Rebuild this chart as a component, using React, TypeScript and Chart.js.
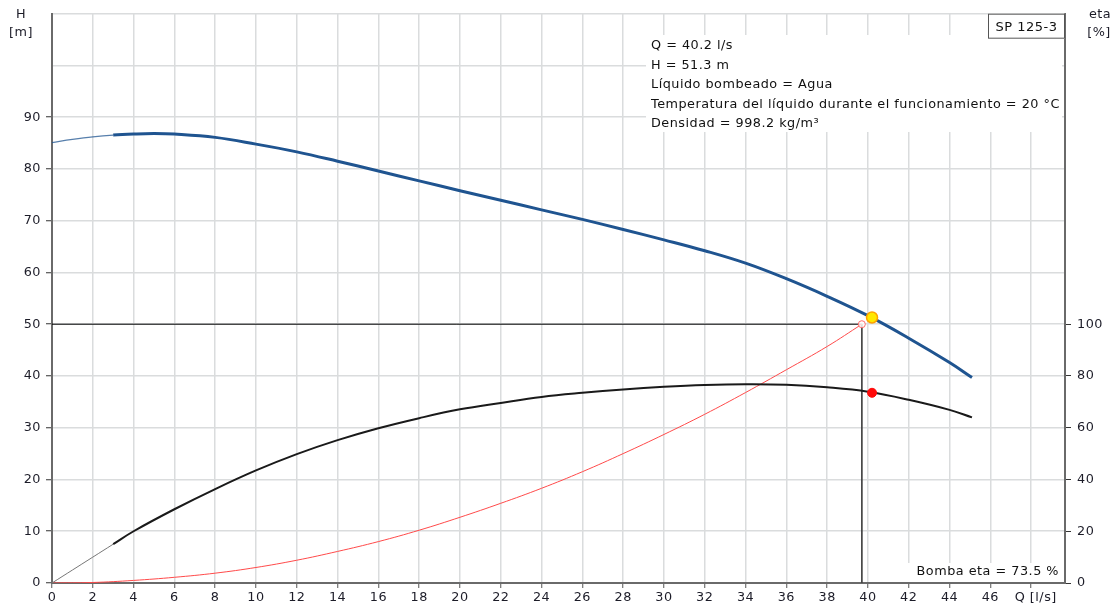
import React, { useEffect, useRef } from 'react';
import { Chart, registerables } from 'chart.js';

Chart.register(...registerables);

// Pump head curve H [m] vs Q [l/s]
const qHead = [0, 1, 2, 3, 4, 5, 6, 8, 10, 12, 14, 16, 18, 20, 22, 24, 26, 28, 30, 32, 34, 36, 38, 40, 42, 44, 45.1];
const headValues = [85.1, 85.7, 86.2, 86.55, 86.75, 86.85, 86.75, 86.1, 84.8, 83.3, 81.5, 79.6, 77.7, 75.8, 73.95, 72.1, 70.25, 68.3, 66.3, 64.2, 61.8, 58.8, 55.4, 51.65, 47.3, 42.6, 39.7];

// Pump efficiency eta [%] vs Q [l/s]
const qEta = [0, 2, 3, 4, 6, 8, 10, 12, 14, 16, 18, 20, 22, 24, 26, 28, 30, 32, 34, 36, 38, 40, 42, 44, 45.1];
const etaValues = [0, 10, 15, 20, 28.5, 36.3, 43.5, 49.8, 55.2, 59.8, 63.7, 67.1, 69.6, 71.9, 73.5, 74.8, 75.8, 76.5, 76.8, 76.6, 75.6, 73.9, 70.8, 66.9, 64.0];

// Red (system) curve H [m] vs Q [l/s]
const qSystem = [0, 2, 4, 6, 8, 10, 12, 14, 16, 18, 20, 22, 24, 26, 28, 30, 32, 34, 36, 38, 39.7];
const systemValues = [0, 0.1, 0.5, 1.1, 1.9, 3.0, 4.4, 6.1, 8.0, 10.2, 12.7, 15.4, 18.3, 21.5, 25.0, 28.7, 32.6, 36.8, 41.2, 45.7, 50.0];

// Operating / duty points
const dutyQ = 39.7;
const dutyH = 50;
const opQ = 40.2;
const opH = 51.3;
const opEta = 73.5;

// Axis ranges & labels
const xMax = 49.66;
const xLastNumberTick = 46;
const xAxisLabel = '  Q [l/s]';
const yLeftMax = 110;
const yLeftLabelMax = 90;
const yRightMax = 220;
const yRightLabelMax = 100;
const leftTitle = ['H', '[m]'];
const rightTitle = ['eta', '[%]'];
const pumpName = 'SP 125-3';
const infoLines = [
  'Q = 40.2 l/s',
  'H = 51.3 m',
  'Líquido bombeado = Agua',
  'Temperatura del líquido durante el funcionamiento = 20 °C',
  'Densidad = 998.2 kg/m³',
];
const etaNote = 'Bomba eta = 73.5 %';

const FONT = '"DejaVu Sans", Verdana, sans-serif';
const GRID = '#dadcdd';
const AXIS = '#6a6a6a';
const TEXT = '#1c1c28';
const BLUE = '#1f5490';
const SPACING = '0.5px';

const xy = (xs: number[], ys: number[]) => xs.map((x, i) => ({ x, y: ys[i] }));

const overlay = {
  id: 'overlay',
  beforeInit(chart: any) {
    (chart.ctx as any).letterSpacing = SPACING;
  },
  beforeUpdate(chart: any) {
    (chart.ctx as any).letterSpacing = SPACING;
  },
  beforeDatasetsDraw(chart: any) {
    const c = chart.ctx as CanvasRenderingContext2D;
    const a = chart.chartArea;
    c.save();
    (c as any).letterSpacing = SPACING;
    c.font = `12.8px ${FONT}`;
    c.textBaseline = 'middle';
    c.textAlign = 'left';
    // info block
    const bx = 646;
    c.fillStyle = '#fff';
    c.fillRect(bx, 35, a.right - 3 - bx, 97);
    c.fillStyle = '#111';
    infoLines.forEach((t, i) => c.fillText(t, 651, 46 + i * 19.5));
    // eta note
    c.fillStyle = '#fff';
    c.fillRect(908, a.bottom - 20, a.right - 3 - 908, 19);
    c.fillStyle = '#111';
    c.textAlign = 'right';
    c.fillText(etaNote, a.right - 6, a.bottom - 11);
    c.restore();
  },
  afterDraw(chart: any) {
    const c = chart.ctx as CanvasRenderingContext2D;
    const a = chart.chartArea;
    c.save();
    (c as any).letterSpacing = SPACING;
    c.font = `12.8px ${FONT}`;
    c.textBaseline = 'middle';
    c.textAlign = 'center';
    c.fillStyle = TEXT;
    c.fillText(leftTitle[0], 21, 15);
    c.fillText(leftTitle[1], 21, 33);
    c.fillText(rightTitle[0], 1100, 15);
    c.fillText(rightTitle[1], 1099, 33);
    // pump name box
    const x0 = 988, y0 = a.top, w = a.right - x0, h = 25;
    c.fillStyle = '#fff';
    c.fillRect(x0, y0, w, h);
    c.strokeStyle = '#555';
    c.lineWidth = 1;
    c.strokeRect(x0 + 0.5, y0 + 0.5, w - 1, h - 1);
    c.fillStyle = '#111';
    c.font = `13px ${FONT}`;
    c.fillText(pumpName, x0 + w / 2, y0 + h / 2 + 1);
    c.restore();
  },
};

export default function App() {
  const ref = useRef<HTMLCanvasElement>(null);

  useEffect(() => {
    const canvas = ref.current;
    if (!canvas) return;
    const tickFont = { family: FONT, size: 12.8 };
    const chart = new Chart(canvas, {
      type: 'line',
      data: {
        datasets: [
          {
            label: 'H',
            data: xy(qHead, headValues),
            yAxisID: 'y',
            borderColor: BLUE,
            borderWidth: 3,
            pointRadius: 0,
            tension: 0.4,
            segment: {
              borderWidth: (ctx: any) => (ctx.p0.parsed.x < 2.5 ? 1.2 : 3),
              borderColor: (ctx: any) => (ctx.p0.parsed.x < 2.5 ? 'rgba(31,84,144,0.75)' : BLUE),
            },
            order: 1,
          } as any,
          {
            label: 'eta',
            data: xy(qEta, etaValues),
            yAxisID: 'y2',
            borderColor: '#1a1a1a',
            borderWidth: 2,
            pointRadius: 0,
            tension: 0.4,
            segment: {
              borderWidth: (ctx: any) => (ctx.p0.parsed.x < 2.5 ? 1 : 2),
              borderColor: (ctx: any) => (ctx.p0.parsed.x < 2.5 ? '#777' : '#1a1a1a'),
            },
            order: 2,
          } as any,
          {
            label: 'system',
            data: xy(qSystem, systemValues),
            yAxisID: 'y',
            borderColor: '#ff4a4a',
            borderWidth: 1,
            pointRadius: 0,
            tension: 0.4,
            order: 3,
          } as any,
          {
            label: 'hline',
            data: [{ x: 0, y: dutyH }, { x: dutyQ, y: dutyH }],
            yAxisID: 'y',
            borderColor: '#000',
            borderWidth: 1,
            pointRadius: 0,
            order: 4,
          },
          {
            label: 'vline',
            data: [{ x: dutyQ, y: dutyH }, { x: dutyQ, y: 0 }],
            yAxisID: 'y',
            borderColor: '#444',
            borderWidth: 1,
            pointRadius: 0,
            order: 4,
          },
          {
            label: 'duty',
            data: [{ x: dutyQ, y: dutyH }],
            yAxisID: 'y',
            showLine: false,
            pointRadius: 3.5,
            pointBackgroundColor: 'rgba(255,255,255,0.8)',
            pointBorderColor: '#ff6a6a',
            pointBorderWidth: 1,
            order: 0,
          },
          {
            label: 'op',
            data: [{ x: opQ, y: opH }],
            yAxisID: 'y',
            showLine: false,
            pointRadius: 5.5,
            pointBackgroundColor: '#ffe800',
            pointBorderColor: '#ffa200',
            pointBorderWidth: 1.5,
            order: 0,
          },
          {
            label: 'opEta',
            data: [{ x: opQ, y: opEta }],
            yAxisID: 'y2',
            showLine: false,
            pointRadius: 4.5,
            pointBackgroundColor: '#ff0a0a',
            pointBorderColor: '#ff0a0a',
            pointBorderWidth: 1,
            order: 0,
          },
        ],
      },
      options: {
        animation: false,
        responsive: false,
        devicePixelRatio: 1,
        layout: { padding: { top: 7, left: 0, right: 0, bottom: 0 } },
        plugins: { legend: { display: false }, tooltip: { enabled: false } },
        events: [],
        scales: {
          x: {
            type: 'linear',
            position: 'bottom',
            min: 0,
            max: xMax,
            afterFit: (s: any) => { s.height = 27; },
            grid: { color: GRID, lineWidth: 1.5, tickLength: 5, tickColor: '#555', tickWidth: 1 },
            border: { display: true, color: AXIS, width: 2 },
            ticks: {
              stepSize: 2,
              includeBounds: false,
              maxRotation: 0,
              autoSkip: false,
              padding: 2,
              color: TEXT,
              font: tickFont,
              callback: (v: any) => (v <= xLastNumberTick ? String(v) : v === 48 ? xAxisLabel : ''),
            },
          },
          y: {
            type: 'linear',
            position: 'left',
            min: 0,
            max: yLeftMax,
            afterFit: (s: any) => { s.width = 52; },
            grid: {
              color: GRID,
              lineWidth: 1.5,
              tickLength: 6,
              tickWidth: 1,
              tickColor: (ctx: any) => (ctx.tick && ctx.tick.value <= yLeftLabelMax ? '#333' : 'rgba(0,0,0,0)'),
            },
            border: { display: true, color: AXIS, width: 2 },
            ticks: {
              stepSize: 10,
              padding: 5,
              color: TEXT,
              font: tickFont,
              callback: (v: any) => (v <= yLeftLabelMax ? String(v) : ''),
            },
          },
          y2: {
            type: 'linear',
            position: 'right',
            min: 0,
            max: yRightMax,
            afterFit: (s: any) => { s.width = 52; },
            grid: {
              drawOnChartArea: false,
              tickLength: 6,
              tickWidth: 1,
              tickColor: (ctx: any) => (ctx.tick && ctx.tick.value <= yRightLabelMax ? '#333' : 'rgba(0,0,0,0)'),
            },
            border: { display: true, color: AXIS, width: 2 },
            ticks: {
              stepSize: 20,
              padding: 6,
              color: TEXT,
              font: tickFont,
              callback: (v: any) => (v <= yRightLabelMax ? String(v) : ''),
            },
          },
        },
      } as any,
      plugins: [overlay],
    });
    return () => chart.destroy();
  }, []);

  return (
    <div style={{ position: 'fixed', left: 0, top: 0, width: 1117, height: 610, background: '#fff' }}>
      <canvas ref={ref} width={1117} height={610} style={{ width: 1117, height: 610, display: 'block' }} />
    </div>
  );
}
